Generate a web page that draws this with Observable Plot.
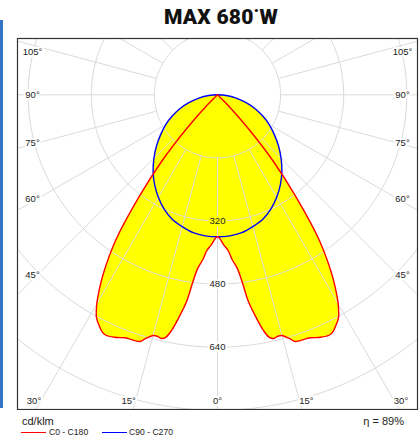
<!DOCTYPE html>
<html><head><meta charset="utf-8">
<script src="https://cdn.jsdelivr.net/npm/d3@7"></script>
<script src="https://cdn.jsdelivr.net/npm/@observablehq/plot@0.6"></script>
<style>
body{margin:0;background:#fff;width:419px;height:439px;position:relative;overflow:hidden;font-family:"Liberation Sans",Arial,sans-serif;color:#222;}
#bar{position:absolute;left:0;top:20px;width:2.5px;height:388px;background:#3474c2;z-index:5;}
#title{position:absolute;top:5px;left:221px;transform:translateX(-50%);font:900 21px Roboto,"Open Sans",sans-serif;white-space:nowrap;color:#111;letter-spacing:0.2px;}
#chart{position:absolute;top:37px;left:0;}
#unit{position:absolute;left:22px;top:415px;font-size:11px;}
#eta{position:absolute;right:15px;top:415px;font-size:11px;}
.sw{position:absolute;top:432px;width:25px;height:1.4px;}
.lt{position:absolute;top:427px;font-size:8.6px;}
</style></head>
<body>
<div id="bar"></div>
<div id="title">MAX 680˙W</div>
<div id="chart"></div>
<div id="unit">cd/klm</div>
<div id="eta">η = 89%</div>
<div class="sw" style="left:21px;background:#ff0000"></div><div class="lt" style="left:49px">C0 - C180</div>
<div class="sw" style="left:102px;background:#0000ff"></div><div class="lt" style="left:129px">C90 - C270</div>
<script>
// C0 - C180 plane (red), cd/klm vs gamma angle
const redAngles = [0, 2.5, 4, 5, 6.5, 7.5, 8.5, 10, 11, 12, 13, 14, 15, 16.5, 17.5, 20, 21, 23, 25, 26, 27, 28.5, 30, 31, 32.5, 35, 37.5, 40, 42.5, 45, 47.5, 50, 60, 75, 90];
const redValues = [360, 382, 397, 418, 443, 478, 530, 578, 608, 628, 634, 631, 632, 645, 656, 658, 660, 668, 672, 668, 659, 643, 612, 585, 540, 450, 330, 220, 110, 35, 5, 0, 0, 0, 0];
// C90 - C270 plane (blue)
const blueAngles = [0, 5, 10, 15, 20, 25, 30, 35, 40, 45, 50, 55, 60, 65, 70, 75, 80, 85, 90];
const blueValues = [360, 359, 355, 346, 336, 320, 300, 278, 254, 228, 202, 176, 152, 126, 100, 74, 48, 22, 0];
// grid
const ringValues = [160, 320, 480, 640, 800];
const ringLabels = [320, 480, 640];
const angleLabels = [0, 15, 30, 45, 60, 75, 90, 105];
const spokeStep = 15;

const rad = Math.PI / 180;
const W = 419, H = 373;
const K = 0.3944;            // px per cd/klm
const cx = 217, cy = 57.3;   // origin in svg px
const fl = 17, fr = 417, ft = 1, fb = 372;

function polar(angles, values) {
  const pts = [];
  for (let i = angles.length - 1; i >= 0; i--) pts.push([-values[i] * Math.sin(angles[i] * rad), values[i] * Math.cos(angles[i] * rad)]);
  for (let i = 1; i < angles.length; i++) pts.push([values[i] * Math.sin(angles[i] * rad), values[i] * Math.cos(angles[i] * rad)]);
  return pts;
}
const redPts = polar(redAngles, redValues);
const bluePts = polar(blueAngles, blueValues);

const rings = ringValues.flatMap(r => d3.range(0, 361, 2).map(a => ({r, x: r * Math.sin(a * rad), y: r * Math.cos(a * rad)})));
const spokes = d3.range(0, 360, spokeStep);

const angleLab = [];
for (const a of angleLabels) {
  for (const s of (a === 0 ? [0] : [-1, 1])) {
    let x, y;
    if (a >= 45) {
      x = s * 185 / K;
      y = Math.max((180 / K) * Math.cos(a * rad) / Math.sin(a * rad), -42.6 / K);
    } else {
      y = 305.7 / K;
      x = s * Math.min(305.7 * Math.tan(a * rad) + 7, 185) / K;
    }
    angleLab.push({a, x, y});
  }
}
const inside = (p) => d3.polygonContains(redPts, p) || d3.polygonContains(bluePts, p);

const chart = Plot.plot({
  width: W, height: H,
  marginLeft: fl, marginRight: W - fr, marginTop: ft, marginBottom: H - fb,
  x: {domain: [(fl - cx) / K, (fr - cx) / K], range: [fl, fr], axis: null},
  y: {domain: [(ft - cy) / K, (fb - cy) / K], range: [ft, fb], axis: null},
  style: {fontFamily: "'Liberation Sans', Arial, sans-serif", background: "white"},
  marks: [
    Plot.line(bluePts, {x: d => d[0], y: d => d[1], fill: "#ffff00", stroke: "none", curve: "catmull-rom"}),
    Plot.line(redPts, {x: d => d[0], y: d => d[1], fill: "#ffff00", stroke: "none", curve: "catmull-rom"}),
    Plot.line(rings, {x: "x", y: "y", z: "r", stroke: "#dadada", strokeWidth: 1, clip: true}),
    Plot.link(spokes, {
      x1: a => 160 * Math.sin(a * rad), y1: a => 160 * Math.cos(a * rad),
      x2: a => 1500 * Math.sin(a * rad), y2: a => 1500 * Math.cos(a * rad),
      stroke: "#dadada", strokeWidth: 1, clip: true
    }),
    Plot.line(bluePts, {x: d => d[0], y: d => d[1], stroke: "#0000ff", strokeWidth: 1.4, curve: "catmull-rom"}),
    Plot.line(redPts, {x: d => d[0], y: d => d[1], stroke: "#ff0000", strokeWidth: 1.4, curve: "catmull-rom"}),
    Plot.text(ringLabels, {x: 0, y: d => d, text: d => String(d), fontSize: 9.5, fill: "#222",
      stroke: d => inside([0, d]) ? "#ffff00" : "white", strokeWidth: 4, paintOrder: "stroke"}),
    Plot.text(angleLab, {x: "x", y: "y", text: d => d.a + "°", fontSize: 9.5, fill: "#222",
      stroke: "white", strokeWidth: 4, paintOrder: "stroke"}),
    Plot.frame({stroke: "#333", strokeWidth: 1.2})
  ]
});
document.getElementById("chart").append(chart);
</script>
</body></html>
